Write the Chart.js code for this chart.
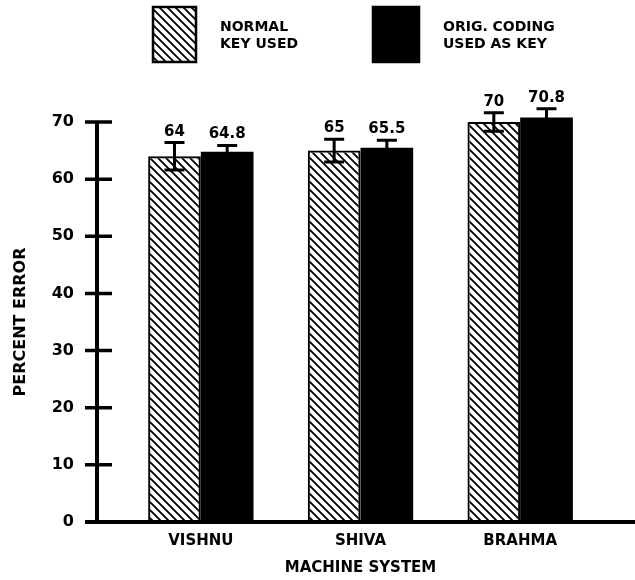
<!DOCTYPE html>
<html>
<head>
<meta charset="utf-8">
<script src="https://cdn.jsdelivr.net/npm/chart.js@4.4.1/dist/chart.umd.min.js"></script>
<style>
html, body { margin: 0; padding: 0; background: #fff; }
#wrap { width: 635px; height: 580px; }
</style>
</head>
<body>
<div id="wrap"><canvas id="barChart"></canvas></div>
<script>
var machines = ['VISHNU', 'SHIVA', 'BRAHMA'];
var normalKey = [64, 65, 70];
var normalErr = [2.4, 2, 1.6];
var origKey = [64.8, 65.5, 70.8];
var origErr = [1.1, 1.3, 1.5];
var yTicks = [0, 10, 20, 30, 40, 50, 60, 70];
var legendLines = [['NORMAL', 'KEY USED'], ['ORIG. CODING', 'USED AS KEY']];
var errors = [normalErr, origErr];

var FONT = '"DejaVu Sans", "Liberation Sans", sans-serif';

// diagonal hatch for the first series
function makeHatch() {
    var c = document.createElement('canvas');
    c.width = 8; c.height = 8;
    var g = c.getContext('2d');
    g.strokeStyle = '#000';
    g.lineWidth = 1.8;
    g.beginPath();
    g.moveTo(-1, -1); g.lineTo(9, 9);
    g.moveTo(-1, 7); g.lineTo(1, 9);
    g.moveTo(7, -1); g.lineTo(9, 1);
    g.stroke();
    return g.createPattern(c, 'repeat');
}
var hatch = makeHatch();

// axis lines with ticks that cross the axis
var axesPlugin = {
    id: 'axesPlugin',
    afterDatasetsDraw: function(chart) {
        var ctx = chart.ctx, y = chart.scales.y, area = chart.chartArea;
        var ax = area.left - 24;
        var y0 = y.getPixelForValue(0);
        ctx.save();
        ctx.strokeStyle = '#000';
        ctx.lineWidth = 4;
        ctx.beginPath();
        ctx.moveTo(ax, y.getPixelForValue(70) - 1);
        ctx.lineTo(ax, y0);
        ctx.moveTo(ax - 12, y0);
        ctx.lineTo(chart.width, y0);
        ctx.stroke();
        ctx.lineWidth = 3.5;
        ctx.beginPath();
        yTicks.forEach(function(v) {
            if (v === 0) return;
            var py = y.getPixelForValue(v);
            ctx.moveTo(ax - 12, py);
            ctx.lineTo(ax + 15, py);
        });
        ctx.stroke();
        ctx.restore();
    }
};

// error bars and value labels
var errorBars = {
    id: 'errorBars',
    afterDatasetsDraw: function(chart) {
        var ctx = chart.ctx, y = chart.scales.y;
        ctx.save();
        chart.data.datasets.forEach(function(ds, di) {
            var meta = chart.getDatasetMeta(di);
            meta.data.forEach(function(bar, i) {
                var v = ds.data[i], e = errors[di][i];
                var yt = y.getPixelForValue(v + e), yb = y.getPixelForValue(v - e);
                ctx.strokeStyle = '#000';
                ctx.lineWidth = 3;
                ctx.beginPath();
                ctx.moveTo(bar.x, yt); ctx.lineTo(bar.x, yb);
                ctx.moveTo(bar.x - 10, yt); ctx.lineTo(bar.x + 10, yt);
                ctx.moveTo(bar.x - 10, yb); ctx.lineTo(bar.x + 10, yb);
                ctx.stroke();
                ctx.fillStyle = '#000';
                ctx.font = 'bold 15px ' + FONT;
                ctx.textAlign = 'center';
                ctx.textBaseline = 'alphabetic';
                ctx.fillText(String(v), bar.x, yt - 7);
            });
        });
        ctx.restore();
    }
};

// legend boxes with two-line labels
var keyPlugin = {
    id: 'keyPlugin',
    afterDraw: function(chart) {
        var ctx = chart.ctx;
        var boxes = [{x: 153, w: 43}, {x: 373, w: 46}];
        ctx.save();
        chart.data.datasets.forEach(function(ds, di) {
            var b = boxes[di];
            ctx.fillStyle = ds.backgroundColor;
            ctx.fillRect(b.x, 7, b.w, 55);
            ctx.strokeStyle = '#000';
            ctx.lineWidth = 2.5;
            ctx.strokeRect(b.x, 7, b.w, 55);
            ctx.fillStyle = '#000';
            ctx.font = 'bold 14px ' + FONT;
            ctx.textAlign = 'left';
            ctx.textBaseline = 'middle';
            legendLines[di].forEach(function(line, li) {
                ctx.fillText(line, b.x + b.w + 24, 27 + li * 17);
            });
        });
        ctx.restore();
    }
};

var ctx = document.getElementById('barChart');
var myChart = new Chart(ctx.getContext('2d'), {
    type: 'bar',
    data: {
        labels: machines,
        datasets: [{
            label: 'NORMAL KEY USED',
            data: normalKey,
            backgroundColor: hatch,
            borderColor: '#000',
            borderWidth: 2,
            clip: false
        }, {
            label: 'ORIG. CODING USED AS KEY',
            data: origKey,
            backgroundColor: '#000',
            borderColor: '#000',
            borderWidth: 0,
            clip: false
        }]
    },
    options: {
        responsive: true,
        maintainAspectRatio: false,
        animation: false,
        datasets: {
            bar: { categoryPercentage: 0.66, barPercentage: 1.0 }
        },
        layout: {
            padding: { top: 122, right: 35, left: 0, bottom: 0 }
        },
        scales: {
            x: {
                grid: { display: false, drawTicks: false },
                border: { display: false },
                ticks: {
                    color: '#000',
                    padding: 10,
                    font: { family: FONT, size: 15, weight: 'bold' }
                },
                title: {
                    display: true,
                    text: 'MACHINE SYSTEM',
                    color: '#000',
                    padding: { top: 0, bottom: 3 },
                    font: { family: FONT, size: 15, weight: 'bold' }
                },
                afterFit: function(s) { s.height = 58; }
            },
            y: {
                min: 0,
                max: 70,
                grid: { display: false, drawTicks: false },
                border: { display: false },
                afterBuildTicks: function(s) {
                    s.ticks = yTicks.map(function(v) { return { value: v }; });
                },
                ticks: {
                    color: '#000',
                    padding: 47,
                    font: { family: FONT, size: 16, weight: 'bold' }
                },
                title: {
                    display: true,
                    text: 'PERCENT ERROR',
                    color: '#000',
                    padding: { top: 11, bottom: 0 },
                    font: { family: FONT, size: 16, weight: 'bold' }
                },
                afterFit: function(s) { s.width = 121; }
            }
        },
        plugins: {
            legend: { display: false },
            tooltip: { enabled: false }
        }
    },
    plugins: [axesPlugin, errorBars, keyPlugin]
});
</script>
</body>
</html>
